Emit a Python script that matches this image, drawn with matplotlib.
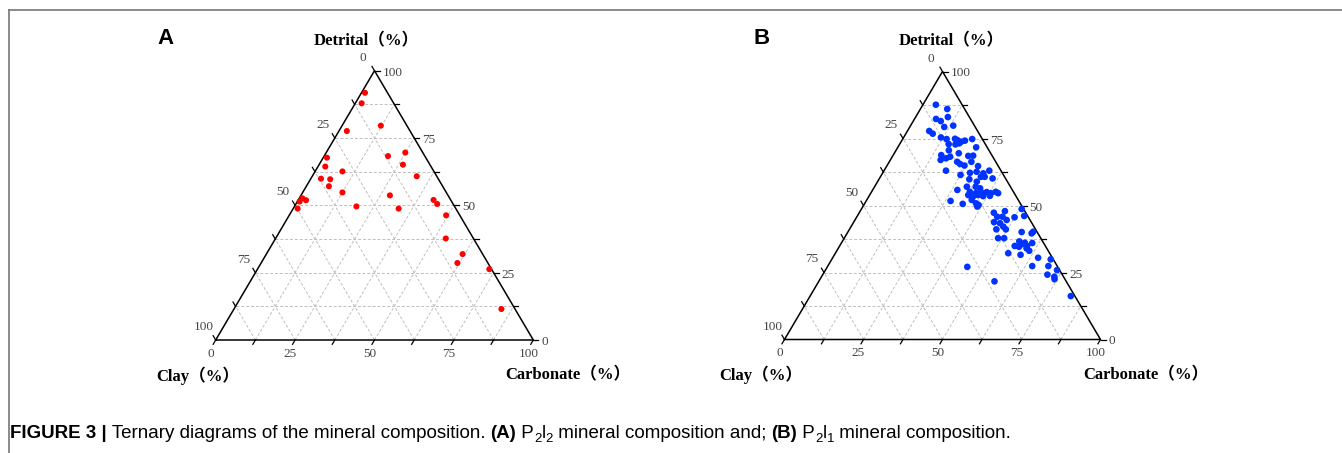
import numpy as np
import matplotlib.pyplot as plt
from matplotlib.lines import Line2D

W, H = 1342, 453

# panel A (P2l2) - carbonate and detrital content in %, clay is the rest
a_carbonate = [1.1, 2.0, 12.2, 2.5, 24.9, 20.1, 26.4, 1.2, 2.3, 8.6, 32.9, 3.2, 6.2, 7.1, 12.5,
               28.0, 42.6, 44.5, 1.0, 0.7, 2.5, 1.4, 19.5, 33.2, 49.4, 53.6, 61.8, 61.8, 73.0, 84.2]
a_detrital = [91.8, 87.9, 79.6, 77.6, 69.6, 68.3, 65.1, 67.7, 64.4, 62.6, 60.8, 59.9, 59.7, 57.1, 54.8,
              53.7, 52.0, 50.5, 52.6, 51.4, 51.9, 48.8, 49.6, 48.8, 46.3, 37.7, 31.9, 28.6, 26.3, 11.5]

# panel B (P2l1)
b_carbonate = [4.1, 8.5, 6.8, 10.2, 8.7, 10.9, 13.5, 6.9, 8.5, 11.8,
               13.9, 16.5, 17.5, 19.0, 20.0, 22.0, 15.5, 17.7, 18.7, 24.8,
               16.7, 15.2, 18.3, 20.4, 23.9, 25.4, 15.9, 17.3, 21.5, 22.8,
               24.5, 26.0, 28.9, 19.6, 25.0, 27.6, 29.5, 31.9, 33.3, 31.8,
               33.0, 35.8, 28.6, 31.4, 29.2, 32.0, 33.7, 26.8, 31.1, 33.3,
               35.0, 36.5, 38.0, 39.3, 40.3, 31.2, 33.0, 34.3, 36.1, 38.2,
               26.7, 31.1, 33.2, 35.2, 36.2, 36.3, 42.6, 45.8, 50.7, 44.4,
               46.1, 50.0, 52.8, 44.4, 46.5, 48.0, 46.5, 48.2, 49.5, 55.0,
               58.4, 58.6, 50.6, 48.7, 56.0, 58.0, 60.4, 57.3, 55.4, 56.9,
               59.3, 59.6, 60.9, 54.7, 58.9, 65.0, 69.3, 64.7, 69.8, 73.3,
               71.1, 73.7, 74.2, 82.5, 44.3, 55.6]
b_detrital = [87.6, 86.0, 82.3, 83.0, 81.5, 79.3, 79.8, 77.8, 76.8, 75.4,
              74.8, 74.9, 74.4, 73.8, 74.2, 74.8, 72.9, 72.8, 73.2, 71.7,
              70.6, 68.8, 68.2, 69.5, 68.5, 68.6, 67.0, 67.6, 66.3, 65.5,
              64.9, 66.3, 64.7, 63.0, 61.4, 62.2, 62.6, 62.0, 63.0, 60.7,
              60.7, 60.1, 59.8, 58.9, 57.0, 57.0, 56.4, 55.8, 55.1, 54.6,
              54.8, 55.0, 54.6, 55.1, 54.6, 53.9, 53.3, 53.9, 53.5, 53.6,
              51.7, 50.6, 52.1, 50.8, 49.6, 50.2, 47.3, 47.9, 48.7, 45.8,
              45.8, 45.6, 46.1, 43.8, 43.4, 44.6, 41.1, 42.1, 41.1, 40.1,
              39.6, 40.2, 37.8, 37.8, 36.6, 36.1, 36.0, 35.6, 34.9, 34.6,
              34.9, 34.0, 33.1, 32.2, 31.6, 30.5, 29.9, 27.4, 27.4, 25.9,
              24.2, 23.4, 22.5, 16.2, 27.1, 21.7]

tick_labels = [0, 25, 50, 75, 100]
tick_steps = np.arange(0, 100.1, 12.5)

serif = ['Liberation Serif', 'Noto Sans CJK SC']
tick_col = '#444444'


def fxy(x, y):
    # pixel (from top-left) -> figure fraction
    return x / W, 1 - y / H


def tern(ca, det):
    ca = np.asarray(ca) / 100.
    det = np.asarray(det) / 100.
    return ca + det / 2, det


def draw_ternary(fig, box, ca, det, color, size):
    x0, y0, w, h = box
    ax = fig.add_axes([x0 / W, 1 - y0 / H, w / W, h / H])
    ax.set_xlim(0, 1)
    ax.set_ylim(0, 1)
    ax.axis('off')

    gkw = dict(color='0.75', lw=0.7, ls=(0, (3, 2)), zorder=1)
    for g in tick_steps[1:-1] / 100:
        ax.plot([g / 2, 1 - g / 2], [g, g], **gkw)
        ax.plot([g, g + (1 - g) / 2], [0, 1 - g], **gkw)
        ax.plot([1 - g, (1 - g) / 2], [0, 1 - g], **gkw)

    ax.plot([0, 1, 0.5, 0], [0, 0, 1, 0], color='black', lw=1.1,
            clip_on=False, zorder=3, solid_joinstyle='miter')

    L = 5.
    dl = np.array([-0.5 * w, h])
    dl = dl / np.hypot(*dl)
    for v in tick_steps:
        f = v / 100
        # right edge: detrital
        px, py = 1 - f / 2, f
        ax.plot([px, px + L / w], [py, py], color='black', lw=0.9, clip_on=False)
        # left edge: clay
        qx, qy = (1 - f) / 2, 1 - f
        ax.plot([qx, qx + dl[0] * L / w], [qy, qy + dl[1] * L / h], color='black', lw=0.9, clip_on=False)
        # bottom edge: carbonate
        ax.plot([f, f + dl[0] * L / w], [0, -dl[1] * L / h], color='black', lw=0.9, clip_on=False)
        if v in tick_labels:
            lab = str(int(v))
            ax.annotate(lab, (px, py), xytext=(8, -2), textcoords='offset pixels',
                        ha='left', va='center', fontsize=9.5, family=serif, color=tick_col)
            ax.annotate(lab, (qx, qy), xytext=(-12, 13), textcoords='offset pixels',
                        ha='center', va='center', fontsize=9.5, family=serif, color=tick_col)
            ax.annotate(lab, (f, 0), xytext=(-5, -14), textcoords='offset pixels',
                        ha='center', va='center', fontsize=9.5, family=serif, color=tick_col)

    x, y = tern(ca, det)
    ax.scatter(x, y, s=size, color=color, edgecolors='none', zorder=5, clip_on=False)
    return ax


fig = plt.figure(figsize=(W / 100, H / 100), dpi=100)

draw_ternary(fig, (215.7, 340, 317.6, 269.3), a_carbonate, a_detrital, '#ff0000', 19)
draw_ternary(fig, (784.5, 339.5, 316, 268), b_carbonate, b_detrital, '#0033ff', 23)

tkw = dict(fontsize=12, fontweight='bold', family=serif, ha='center', va='center')
fig.text(*fxy(366.7, 41), 'Detrital（%）', **tkw)
fig.text(*fxy(198, 376), 'Clay（%）', **tkw)
fig.text(*fxy(567.5, 375), 'Carbonate（%）', **tkw)
fig.text(*fxy(951.7, 41), 'Detrital（%）', **tkw)
fig.text(*fxy(761, 375), 'Clay（%）', **tkw)
fig.text(*fxy(1146, 375), 'Carbonate（%）', **tkw)

fig.text(*fxy(166, 38), 'A', fontsize=16, fontweight='bold', family='Liberation Sans', ha='center', va='center')
fig.text(*fxy(761.5, 38), 'B', fontsize=16, fontweight='bold', family='Liberation Sans', ha='center', va='center')

# frame lines of the figure page
fig.add_artist(Line2D([9 / W, 9 / W], [0, 1 - 10 / H], color='#777777', lw=1.2))
fig.add_artist(Line2D([9 / W, 1], [1 - 10 / H, 1 - 10 / H], color='#777777', lw=1.2))

# caption with bold parts and subscripts
pieces = [('FIGURE 3 |', True, False), (' Ternary diagrams of the mineral composition. ', False, False),
          ('(A)', True, False), (' P', False, False), ('2', False, True), ('l', False, False),
          ('2', False, True), (' mineral composition and; ', False, False), ('(B)', True, False),
          (' P', False, False), ('2', False, True), ('l', False, False), ('1', False, True),
          (' mineral composition.', False, False)]
renderer = fig.canvas.get_renderer()
cx = 10
for txt, bold, sub in pieces:
    t = fig.text(*fxy(cx, 438 + (4 if sub else 0)), txt, fontsize=9.5 if sub else 13.5,
                 fontweight='bold' if bold else 'normal', family='Liberation Sans',
                 va='baseline', ha='left')
    cx += t.get_window_extent(renderer).width

fig.savefig('out.png', dpi=100)
